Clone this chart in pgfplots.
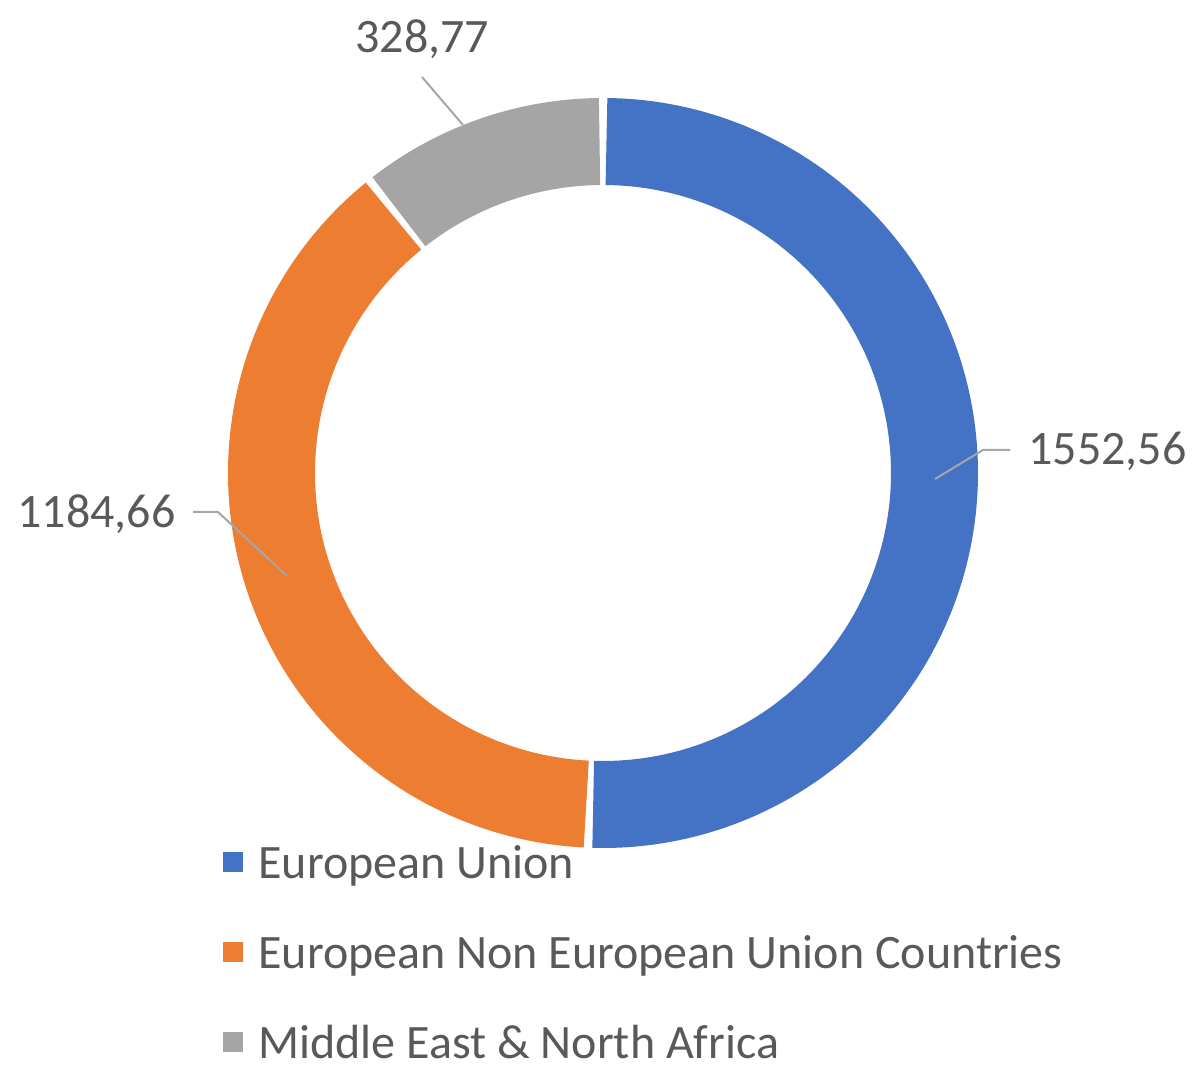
\documentclass[border=0pt]{standalone}
\usepackage{pgfplots}
\pgfplotsset{compat=1.18}
\usepackage{fontspec}
\setmainfont{Carlito}
\definecolor{cEU}{HTML}{4472C4}
\definecolor{cNEU}{HTML}{ED7D31}
\definecolor{cMENA}{HTML}{A5A5A5}
\definecolor{ctext}{HTML}{595959}
\definecolor{clead}{HTML}{A6A6A6}
\begin{document}
\begin{tikzpicture}
% data values
\def\vA{1552.56}% European Union
\def\vB{1184.66}% European Non European Union Countries
\def\vC{328.77}% Middle East & North Africa
\pgfmathsetmacro\tot{\vA+\vB+\vC}
\pgfmathsetmacro\fA{\vA/\tot}
\pgfmathsetmacro\fB{\vB/\tot}
\pgfmathsetmacro\aB{90-360*\fA}
\pgfmathsetmacro\aC{\aB-360*\fB}
\pgfmathsetmacro\aD{\aC+360}
\def\g{0.6}
\pgfmathsetmacro\sA{\aB+\g}\pgfmathsetmacro\eA{90-\g}
\pgfmathsetmacro\sB{\aC+\g}\pgfmathsetmacro\eB{\aB-\g}
\pgfmathsetmacro\sC{90+\g}\pgfmathsetmacro\eC{\aD-\g}
\begin{axis}[
  x=0.5pt, y=0.5pt, xmin=0, xmax=1199, ymin=0, ymax=1087,
  scale only axis, hide axis, clip=false,
  legend image code/.code={\fill[#1] (0pt,-2.5pt) rectangle (10pt,7.5pt);},
  legend cell align=left,
  legend style={draw=none, fill=none, at={(axis cs:223,241)}, anchor=north west,
    font=\fontsize{24}{28.8}\selectfont, text=ctext, inner sep=0pt, row sep=24pt,
    nodes={inner sep=0pt, text height=16pt, text depth=5pt},
    /tikz/every odd column/.style={column sep=7.5pt}},
]
\path (axis cs:0,0) rectangle (axis cs:1199,1087);
\addplot[forget plot, cEU, line width=43.5pt, domain=\sA:\eA, samples=150]
  ({603+331.5*cos(x)},{614+331.5*sin(x)});
\addplot[forget plot, cNEU, line width=43.5pt, domain=\sB:\eB, samples=150]
  ({603+331.5*cos(x)},{614+331.5*sin(x)});
\addplot[forget plot, cMENA, line width=43.5pt, domain=\sC:\eC, samples=60]
  ({603+331.5*cos(x)},{614+331.5*sin(x)});
% leader lines
\addplot[forget plot, clead, line width=1pt] coordinates {(935,608) (983,637) (1010,637)};
\addplot[forget plot, clead, line width=1pt] coordinates {(287,511) (218,575) (193,575)};
\addplot[forget plot, clead, line width=1pt] coordinates {(463,962) (422,1010)};
% labels
\node[anchor=base west, inner sep=0pt, text=ctext, font=\fontsize{24}{28.8}\selectfont] at (axis cs:1028,622) {1552,56};
\node[anchor=base east, inner sep=0pt, text=ctext, font=\fontsize{24}{28.8}\selectfont] at (axis cs:176,559) {1184,66};
\node[anchor=base west, inner sep=0pt, text=ctext, font=\fontsize{24}{28.8}\selectfont] at (axis cs:355,1034) {328,77};
\addlegendimage{fill=cEU, draw=none}
\addlegendentry{European Union}
\addlegendimage{fill=cNEU, draw=none}
\addlegendentry{European Non European Union Countries}
\addlegendimage{fill=cMENA, draw=none}
\addlegendentry{Middle East \& North Africa}
\end{axis}
\end{tikzpicture}
\end{document}
